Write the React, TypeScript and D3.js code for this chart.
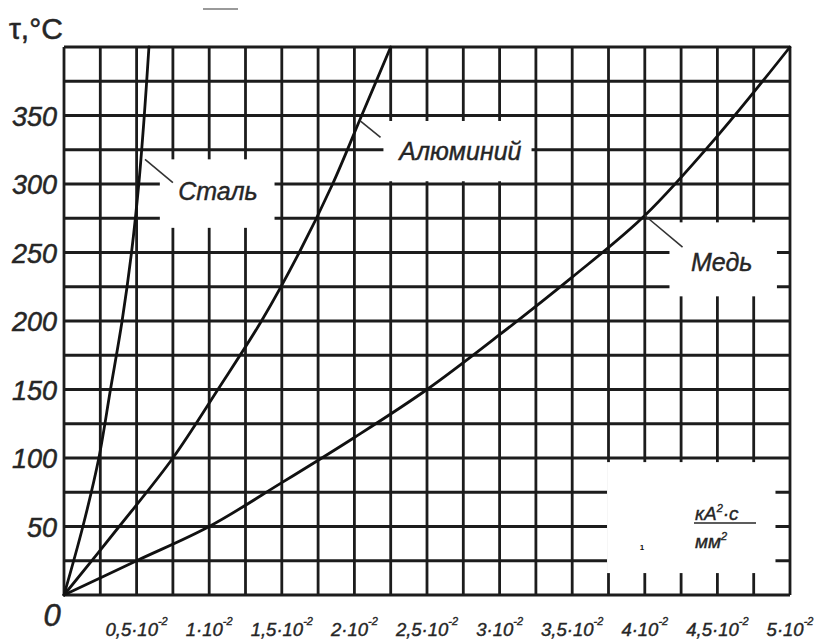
import React from "react";
import * as d3 from "d3";

// Heating-current integral, x in units of 1e-2 kA²·s/mm², τ in °C
const steelX = [0, 0.13, 0.24, 0.32, 0.4, 0.465, 0.515, 0.553, 0.585];
const steelT = [0, 50, 100, 150, 200, 250, 300, 350, 400];
const aluX = [0, 0.38, 0.75, 1.06, 1.36, 1.62, 1.85, 2.05, 2.25];
const aluT = [0, 50, 100, 150, 200, 250, 300, 350, 400];
const copperX = [0, 0.5, 1.0, 1.5, 2.0, 2.5, 3.0, 3.5, 4.0, 4.5, 5.0];
const copperT = [0, 25, 50, 82, 115, 150, 190, 232, 277, 335, 400];

const xTickValues = [0.5, 1, 1.5, 2, 2.5, 3, 3.5, 4, 4.5, 5];
const xTickLabels = ["0,5", "1", "1,5", "2", "2,5", "3", "3,5", "4", "4,5", "5"];
const yTickValues = [50, 100, 150, 200, 250, 300, 350];
const seriesNames = ["Сталь", "Алюминий", "Медь"];

const W = 819;
const H = 641;

export default function App() {
  const x = d3.scaleLinear().domain([0, 5]).range([64, 790]);
  const y = d3.scaleLinear().domain([0, 400]).range([595, 47]);

  const vGrid = d3.range(0, 5.0001, 0.25);
  const hGrid = d3.range(0, 400.0001, 25);

  const line = d3
    .line<[number, number]>()
    .x((d) => x(d[0]))
    .y((d) => y(d[1]))
    .curve(d3.curveCatmullRom.alpha(0.5));

  const mk = (xs: number[], ts: number[]) => xs.map((v, i) => [v, ts[i]] as [number, number]);

  // white-out boxes (data units): [x0, x1, tTop, tBottom]
  const boxes: [number, number, number, number][] = [
    [0.66, 1.45, 318, 268],
    [2.2, 3.22, 346, 302],
    [4.17, 4.91, 272, 218],
    [3.74, 4.9, 97, 16],
  ];

  const leaders: [number, number, number, number][] = [
    [0.558, 318, 0.75, 301],
    [2.04, 346, 2.18, 334],
    [4.0, 277, 4.26, 254],
  ];

  const textFill = "#262626";
  const font = "'Liberation Sans', Arial, sans-serif";

  return (
    <svg
      width={W}
      height={H}
      style={{ position: "absolute", left: 0, top: 0, background: "#fff" }}
    >
      <rect x={0} y={0} width={W} height={H} fill="#fff" />
      {/* top artifact dash */}
      <line x1={203} x2={238} y1={9} y2={9} stroke="#9a9a9a" strokeWidth={2} />

      {/* grid */}
      <g stroke="#1c1c1c" strokeWidth={2.8}>
        {vGrid.map((v) => (
          <line key={"v" + v} x1={x(v)} x2={x(v)} y1={y(0)} y2={y(400)} />
        ))}
        {hGrid.map((t) => (
          <line key={"h" + t} x1={x(0)} x2={x(5)} y1={y(t)} y2={y(t)} />
        ))}
      </g>

      {/* white-out boxes */}
      {boxes.map((b, i) => (
        <rect
          key={"b" + i}
          x={x(b[0])}
          y={y(b[2])}
          width={x(b[1]) - x(b[0])}
          height={y(b[3]) - y(b[2])}
          fill="#fff"
        />
      ))}

      {/* curves */}
      <g fill="none" stroke="#111" strokeWidth={2.8} strokeLinecap="round">
        <path d={line(mk(steelX, steelT)) || ""} />
        <path d={line(mk(aluX, aluT)) || ""} />
        <path d={line(mk(copperX, copperT)) || ""} />
      </g>

      {/* leader lines */}
      <g stroke="#333" strokeWidth={1.6}>
        {leaders.map((l, i) => (
          <line key={"l" + i} x1={x(l[0])} y1={y(l[1])} x2={x(l[2])} y2={y(l[3])} />
        ))}
      </g>

      {/* series labels */}
      <g fontFamily={font} fontStyle="italic" fontSize={25} fill={textFill} stroke={textFill} strokeWidth={0.4}>
        <text x={x(1.06)} y={y(295) + 9} textAnchor="middle">{seriesNames[0]}</text>
        <text x={x(2.73)} y={y(324) + 9} textAnchor="middle">{seriesNames[1]}</text>
        <text x={x(4.53)} y={y(243) + 9} textAnchor="middle">{seriesNames[2]}</text>
      </g>

      {/* units */}
      <g fontFamily={font} fontStyle="italic" fontSize={19} fill={textFill} stroke={textFill} strokeWidth={0.4}>
        <text x={695} y={520}>
          кА<tspan fontSize={11} dy={-8}>2</tspan>
          <tspan dy={8}>·с</tspan>
        </text>
        <line x1={694} x2={756} y1={523} y2={523} stroke={textFill} strokeWidth={1.6} />
        <text x={695} y={548}>
          мм<tspan fontSize={11} dy={-8}>2</tspan>
        </text>
      </g>
      <text x={642} y={550} fontFamily={font} fontSize={8} fontWeight="bold" fill="#111" textAnchor="middle">1</text>

      {/* y axis labels */}
      <g fontFamily={font} fontStyle="italic" fontSize={27} fill={textFill} stroke={textFill} strokeWidth={0.5} textAnchor="end">
        {yTickValues.map((t) => (
          <text key={"yt" + t} x={57} y={y(t) + 10}>
            {t}
          </text>
        ))}
      </g>
      <text x={52} y={626} fontFamily={font} fontStyle="italic" fontSize={31} fill={textFill} stroke={textFill} strokeWidth={0.5} textAnchor="middle">
        0
      </text>

      {/* x axis labels */}
      <g fontFamily={font} fontStyle="italic" fontSize={18.5} fill={textFill} stroke={textFill} strokeWidth={0.4} textAnchor="middle">
        {xTickValues.map((v, i) => (
          <text key={"xt" + v} x={x(v)} y={636}>
            {xTickLabels[i]}·10<tspan fontSize={11} dy={-11}>-2</tspan>
          </text>
        ))}
      </g>

      {/* y axis title */}
      <text x={9} y={39} fontFamily={font} fontSize={30} fill={textFill} stroke={textFill} strokeWidth={0.5}>
        τ,°C
      </text>
    </svg>
  );
}
